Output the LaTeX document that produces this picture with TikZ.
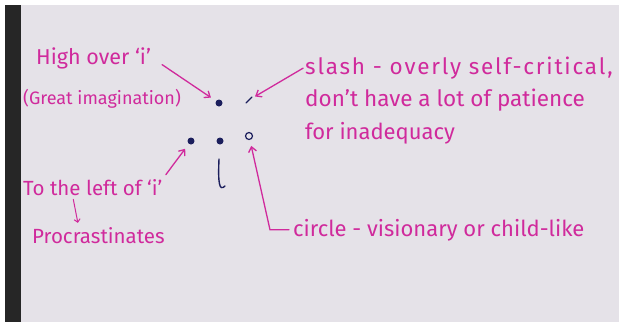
\documentclass[tikz,border=0pt]{standalone}
\usepackage{fontspec}
\setmainfont{Fira Sans}
\usepackage{tikz}
\usetikzlibrary{arrows.meta,positioning}
\definecolor{ink}{HTML}{D02A9C}
\definecolor{pen}{HTML}{1B1E5C}
\definecolor{paper}{HTML}{E5E2E8}

\begin{document}
\begin{tikzpicture}[x=1pt, y=-1pt,
  note/.style={text=ink, font=\fontsize{#1}{#1}\selectfont, inner sep=1pt,
               anchor=base west},
  note/.default=20,
  spaced/.style={font=\fontsize{22.5}{22.5}\selectfont\addfontfeatures{LetterSpace=8}},
  pointer/.style={draw=ink, line width=1.3pt, line cap=round, ->},
  blob/.style={circle, fill=pen, inner sep=0pt, minimum width=5pt,
               minimum height=7pt},
  stroke/.style={draw=pen, line width=1.4pt, line cap=round},
  >={Straight Barb[length=5pt, width=8pt]}]
\useasboundingbox (0,0) rectangle (619,322);
\fill[white] (0,0) rectangle (619,322);
\fill[paper] (20,5) rectangle (619,322);
\fill[black!85] (5,5) rectangle (21,322);

\node[blob] (top) at (219,103) {};
\node[blob] (ldot) at (191,141) {};
\node[blob] (mdot) at (220,141) {};
\node[circle, draw=pen, line width=1.2pt, inner sep=0pt, minimum size=7pt]
      (ring) at (249,136) {};
\coordinate (slashmark) at (249,100);
\draw[stroke] (246,103) -- (252,97);
\draw[stroke] (219,159) .. controls (218,182) and (219,192) .. (225,186);

\node[note=21.5] (high) at (35,64) {High over `i'};
\node[note=18] (great) at (22,104) {(Great imagination)};
\node[note, spaced] (s1) at (304,74) {slash - overly self-critical,};
\node[note=22.5, below=32pt of s1.base west, anchor=base west] (s2)
      {don't have a lot of patience};
\node[note=22, below=33pt of s2.base west, anchor=base west] (s3)
      {for inadequacy};
\node[note=20.5] (left) at (22,195) {To the left of `i'};
\node[note=20.5] (procr) at (31,243) {Procrastinates};
\node[note=22] (circ) at (292,236) {circle - visionary or child-like};

\draw[pointer] (high.east) -- (top) [shorten <=12pt, shorten >=6pt];
\draw[pointer] (s1.west) -- (slashmark) [shorten <=1pt, shorten >=7pt];
\draw[pointer] (left.north east) -- (ldot) [shorten <=4pt, shorten >=6pt];
\draw[pointer, line width=1pt, >={Straight Barb[length=3pt, width=6pt]}]
      ([xshift=-20pt]left.south) -- ([xshift=-20pt]procr.north)
      [shorten <=3pt, shorten >=3pt];
\draw[pointer] (circ.west) -- ++(-22,0) -- (ring) [shorten <=3pt, shorten >=6pt];
\end{tikzpicture}
\end{document}
